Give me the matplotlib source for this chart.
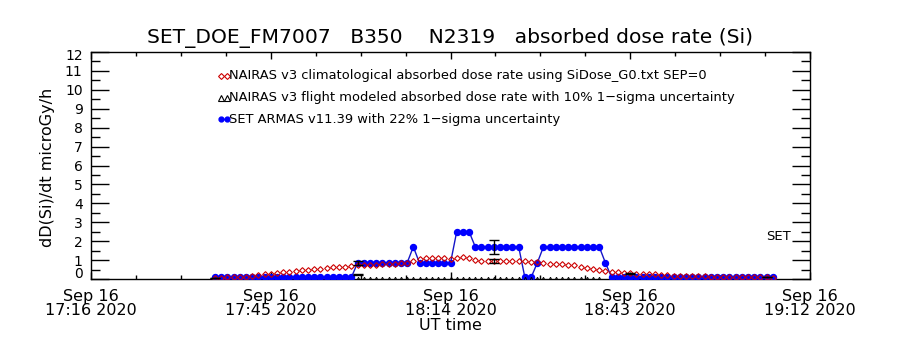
import numpy as np
import matplotlib
matplotlib.use("Agg")
import matplotlib.pyplot as plt
from matplotlib.ticker import MultipleLocator, FixedLocator
from matplotlib.transforms import ScaledTranslation

# ---- data (time in minutes after Sep 16 2020 17:16 UT, 1-min cadence) ----
t_start = 20
climat_nairas = [0.05, 0.07, 0.08, 0.10, 0.11, 0.13, 0.16, 0.20, 0.25, 0.28,
                 0.33, 0.36, 0.38, 0.40, 0.45, 0.50, 0.52, 0.55, 0.60, 0.63,
                 0.65, 0.66, 0.68, 0.72, 0.74, 0.75, 0.76, 0.77, 0.78, 0.80,
                 0.82, 0.85, 0.95, 1.05, 1.10, 1.10, 1.12, 1.10, 1.08, 1.12,
                 1.15, 1.10, 0.98, 0.95, 0.95, 0.95, 0.96, 0.95, 0.94, 0.95,
                 0.95, 0.92, 0.88, 0.85, 0.80, 0.80, 0.78, 0.76, 0.72, 0.66,
                 0.60, 0.55, 0.50, 0.42, 0.38, 0.35, 0.33, 0.30, 0.28, 0.26,
                 0.25, 0.24, 0.22, 0.20, 0.18, 0.17, 0.16, 0.15, 0.14, 0.14,
                 0.13, 0.12, 0.12, 0.11, 0.10, 0.10, 0.09, 0.09, 0.08, 0.08,
                 0.07]
armas = ([0.08] * 23 + [0.85] * 9 + [1.7] + [0.85] * 6 + [2.5] * 3 +
         [1.7] * 8 + [0.08] * 2 + [0.85] + [1.7] * 10 + [0.85] + [0.08] * 27)
flight_t_start = 43
flight_nairas = [0.0] * 40
err_t = [20, 43, 43, 65, 65, 87, 109]
err_v = [0.05, 0.85, 0.25, 1.7, 0.95, 0.30, 0.10]
err_e = [0.02, 0.10, 0.04, 0.37, 0.10, 0.03, 0.02]

xtick_pos = [0, 29, 58, 87, 116]
xtick_labels = ["Sep 16\n17:16 2020", "Sep 16\n17:45 2020", "Sep 16\n18:14 2020",
                "Sep 16\n18:43 2020", "Sep 16\n19:12 2020"]
ytick_pos = list(range(0, 13))
legend_labels = ["NAIRAS v3 climatological absorbed dose rate using SiDose_G0.txt SEP=0",
                 "NAIRAS v3 flight modeled absorbed dose rate with 10% 1\u2212sigma uncertainty",
                 "SET ARMAS v11.39 with 22% 1\u2212sigma uncertainty"]

t = t_start + np.arange(len(climat_nairas))
tf = flight_t_start + np.arange(len(flight_nairas))

fig = plt.figure(figsize=(9, 3.5), dpi=100)
ax = fig.add_axes([91 / 900, 1 - 279 / 350, (810 - 91) / 900, (279 - 52) / 350])

BLUE = "#0000ff"
RED = "#cc0000"

ax.plot(t, armas, color="#1515c8", lw=1.0, marker="o", ms=4.3,
        mfc=BLUE, mec=BLUE, zorder=3)
ax.plot(t, climat_nairas, ls="none", marker="D", ms=2.9, mfc="none",
        mec=RED, mew=0.8, zorder=4)
ax.plot(tf, flight_nairas, ls="none", marker="^", ms=3.2, mfc="none",
        mec="black", mew=0.7, zorder=4)
ax.errorbar(err_t, err_v, yerr=err_e, fmt="none", ecolor="black",
            elinewidth=1.0, capsize=3.5, capthick=1.0, zorder=5)

ax.text(108.9, 2.26, "SET", fontsize=9.5, ha="left", va="center")

ax.set_xlim(0, 116)
ax.set_ylim(0, 12)
ax.xaxis.set_major_locator(FixedLocator(xtick_pos))
ax.set_xticklabels(xtick_labels)
ax.xaxis.set_minor_locator(MultipleLocator(7.25))
ax.yaxis.set_major_locator(FixedLocator(ytick_pos))
ax.set_yticklabels([str(v) for v in ytick_pos])
ax.yaxis.set_minor_locator(MultipleLocator(0.5))

ax.tick_params(axis="x", which="major", direction="in", length=5, width=1,
               top=True, labelsize=11.5, pad=7)
ax.tick_params(axis="x", which="minor", direction="in", length=3, width=1, top=True)
ax.tick_params(axis="y", which="major", direction="in", length=13, width=1,
               right=True, labelsize=10, pad=6)
ax.tick_params(axis="y", which="minor", direction="in", length=6.5, width=1, right=True)
for s in ax.spines.values():
    s.set_linewidth(1.0)
for lab in ax.get_xticklabels():
    lab.set_linespacing(0.95)
ylabs = ax.get_yticklabels()
ylabs[0].set_transform(ylabs[0].get_transform() + ScaledTranslation(0, 0.06, fig.dpi_scale_trans))
ylabs[-1].set_transform(ylabs[-1].get_transform() + ScaledTranslation(0, -0.03, fig.dpi_scale_trans))

# legend drawn as text rows
leg_x = 229 / 900
rows_y = [1 - 76 / 350, 1 - 98 / 350, 1 - 119 / 350]
mk_x = [221 / 900, 227 / 900]
fig.lines.append(plt.Line2D(mk_x, [rows_y[0]] * 2, transform=fig.transFigure,
                            ls="none", marker="D", ms=3.0, mfc="none", mec=RED, mew=0.8))
fig.lines.append(plt.Line2D(mk_x, [rows_y[1]] * 2, transform=fig.transFigure,
                            ls="none", marker="^", ms=4, mfc="none", mec="black", mew=0.8))
fig.lines.append(plt.Line2D(mk_x, [rows_y[2]] * 2, transform=fig.transFigure,
                            color=BLUE, lw=1, marker="o", ms=3.5, mfc=BLUE, mec=BLUE))
for y, lab in zip(rows_y, legend_labels):
    fig.text(leg_x, y, lab, fontsize=9.4, ha="left", va="center")

fig.text(0.5, 1 - 38 / 350, "SET_DOE_FM7007   B350    N2319   absorbed dose rate (Si)",
         fontsize=14.6, ha="center", va="center")
fig.text(48 / 900, 1 - 167 / 350, "dD(Si)/dt microGy/h", fontsize=11.5,
         rotation=90, ha="center", va="center")
fig.text(450 / 900, 1 - 325 / 350, "UT time", fontsize=11.5, ha="center", va="center")

fig.savefig("out.png", dpi=100)
